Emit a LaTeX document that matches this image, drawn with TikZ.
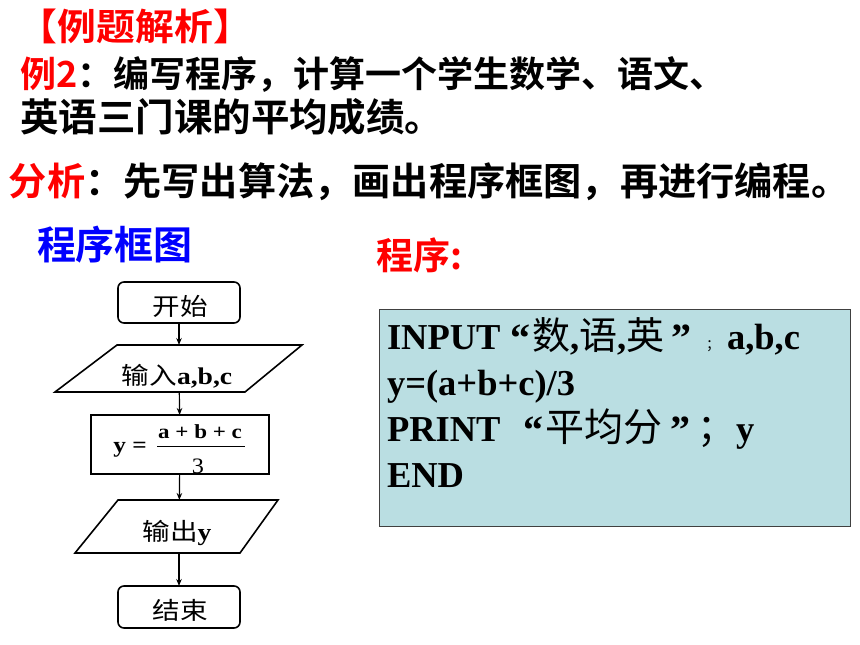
\documentclass[tikz,border=0pt]{standalone}
\usepackage{fontspec}
\usepackage{graphicx}
\usetikzlibrary{arrows.meta}
\setmainfont{Liberation Serif}
\newfontfamily\hei{Noto Sans CJK SC}[BoldFont={Noto Sans CJK SC Bold}]
\newfontfamily\cjk{Noto Sans CJK SC}
\newcommand\myzh[1]{{\mdseries\cjk\fontsize{38}{38}\selectfont #1}}
\newcommand\fzh[1]{{\mdseries\cjk #1}}
\newcommand\qt[1]{{\fontsize{40}{40}\selectfont #1}}
\definecolor{boxcyan}{RGB}{186,222,226}
\definecolor{myred}{RGB}{255,0,0}
\definecolor{myblue}{RGB}{0,0,255}
\begin{document}
\begin{tikzpicture}[x=1pt,y=-1pt,
  every node/.style={inner sep=0pt, outer sep=0pt},
  hd/.style={anchor=base west, font=\hei\bfseries\fontsize{36}{36}\selectfont},
  prg/.style={anchor=base west, font=\bfseries\fontsize{36.5}{36.5}\selectfont},
  ftxt/.style={font=\fontsize{24}{24}\selectfont},
  fbox/.style={draw, line width=1.6pt},
  rbox/.style={fbox, rounded corners=6pt, minimum width=122pt, minimum height=41pt},
  slot/.style={minimum width=120pt},
  arr/.style={line width=1.2pt, -{Stealth[length=7pt,width=5.5pt]}}
]
\useasboundingbox (0,0) rectangle (860,645);
\fill[white] (0,0) rectangle (860,645);

% headings
\node[hd, font=\hei\bfseries\fontsize{37}{37}\selectfont, text=myred] (title) at (19,40.5) {\scalebox{1.05}[1]{【例题解析】}};
\node[hd] (l2) at (20,87.5) {{\color{myred}例2}：编写程序，计算一个学生数学、语文、};
\node[hd, font=\hei\bfseries\fontsize{38.5}{38.5}\selectfont] (l3) at (20,131) {英语三门课的平均成绩。};
\node[hd, font=\hei\bfseries\fontsize{38.2}{38.2}\selectfont] (l4) at (9,195) {{\color{myred}分析}：先写出算法，画出程序框图，再进行编程。};
\node[hd, font=\hei\bfseries\fontsize{39}{39}\selectfont, text=myblue] (fct) at (37,259) {程序框图};
\node[hd, font=\hei\bfseries\fontsize{37}{37}\selectfont, text=myred] (prt) at (376,269) {程序:};

% program box
\node[draw=black!75, line width=1pt, fill=boxcyan, minimum width=471pt, minimum height=217pt] (prog) at (614.5,417.5) {};
\node[prg] (p1a) at (387,349) {INPUT};
\node[prg] (p1q) at (510,351) {\qt{“}};
\node[prg] (p1b) at (532,349) {\myzh{数},\myzh{语},\myzh{英}};
\node[prg] (p1r) at (671,351) {\qt{”}};
\node[prg] (p1c) at (706,349) {{\mdseries\cjk\fontsize{14}{14}\selectfont ；}};
\node[prg] (p1d) at (727,349) {a,b,c};
\node[prg] (p2) at (387,395) {y=(a+b+c)/3};
\node[prg] (p3a) at (387,441) {PRINT};
\node[prg] (p3q) at (523,443) {\qt{“}};
\node[prg] (p3b) at (545,441) {{\mdseries\cjk\fontsize{39}{39}\selectfont 平均分}};
\node[prg] (p3r) at (670,443) {\qt{”}};
\node[prg] (p3s) at (697,441) {\myzh{；}};
\node[prg] (p3c) at (736,441) {y};
\node[prg] (p4) at (387,487) {END};

% flowchart
\node[rbox] (start) at (179,302.5) {};
\node[ftxt] (starttxt) at (180,306) {\scalebox{1.15}[1]{\fzh{开始}}};

\draw[fbox, line join=miter] (117,345) -- (302,345) -- (245,392) -- (55,392) -- cycle;
\node[slot, minimum height=47pt] (in) at (179,368.5) {};
\node[ftxt, anchor=base] (intxt) at (177,384) {\scalebox{1.15}[1]{\fzh{输入}\textbf{a,b,c}}};

\node[fbox, minimum width=178pt, minimum height=59pt] (calc) at (180,444.5) {};
\node[anchor=base, font=\bfseries\fontsize{22}{22}\selectfont] (calcy) at (130,452) {\scalebox{1.15}[1]{y =}};
\node[anchor=base, font=\bfseries\fontsize{20}{20}\selectfont] (calcn) at (200,438) {\scalebox{1.15}[1]{a + b + c}};
\node[anchor=base, font=\fontsize{22}{22}\selectfont] (calcd) at (198,473) {\scalebox{1.1}[1]{3}};
\draw[line width=1.1pt] (157,446.5) -- (245,446.5);

\draw[fbox, line join=miter] (118,500) -- (278,500) -- (240,553) -- (75,553) -- cycle;
\node[slot, minimum height=53pt] (out) at (179,526.5) {};
\node[ftxt, anchor=base] (outtxt) at (177,540) {\scalebox{1.15}[1]{\fzh{输出}\textbf{y}}};

\node[rbox, minimum height=42pt] (end) at (179,607) {};
\node[ftxt] (endtxt) at (180,610) {\scalebox{1.15}[1]{\fzh{结束}}};

\draw[arr] (start) -- (in);
\draw[arr] (in) -- (calc);
\draw[arr] (calc) -- (out);
\draw[arr] (out) -- (end);
\end{tikzpicture}
\end{document}
